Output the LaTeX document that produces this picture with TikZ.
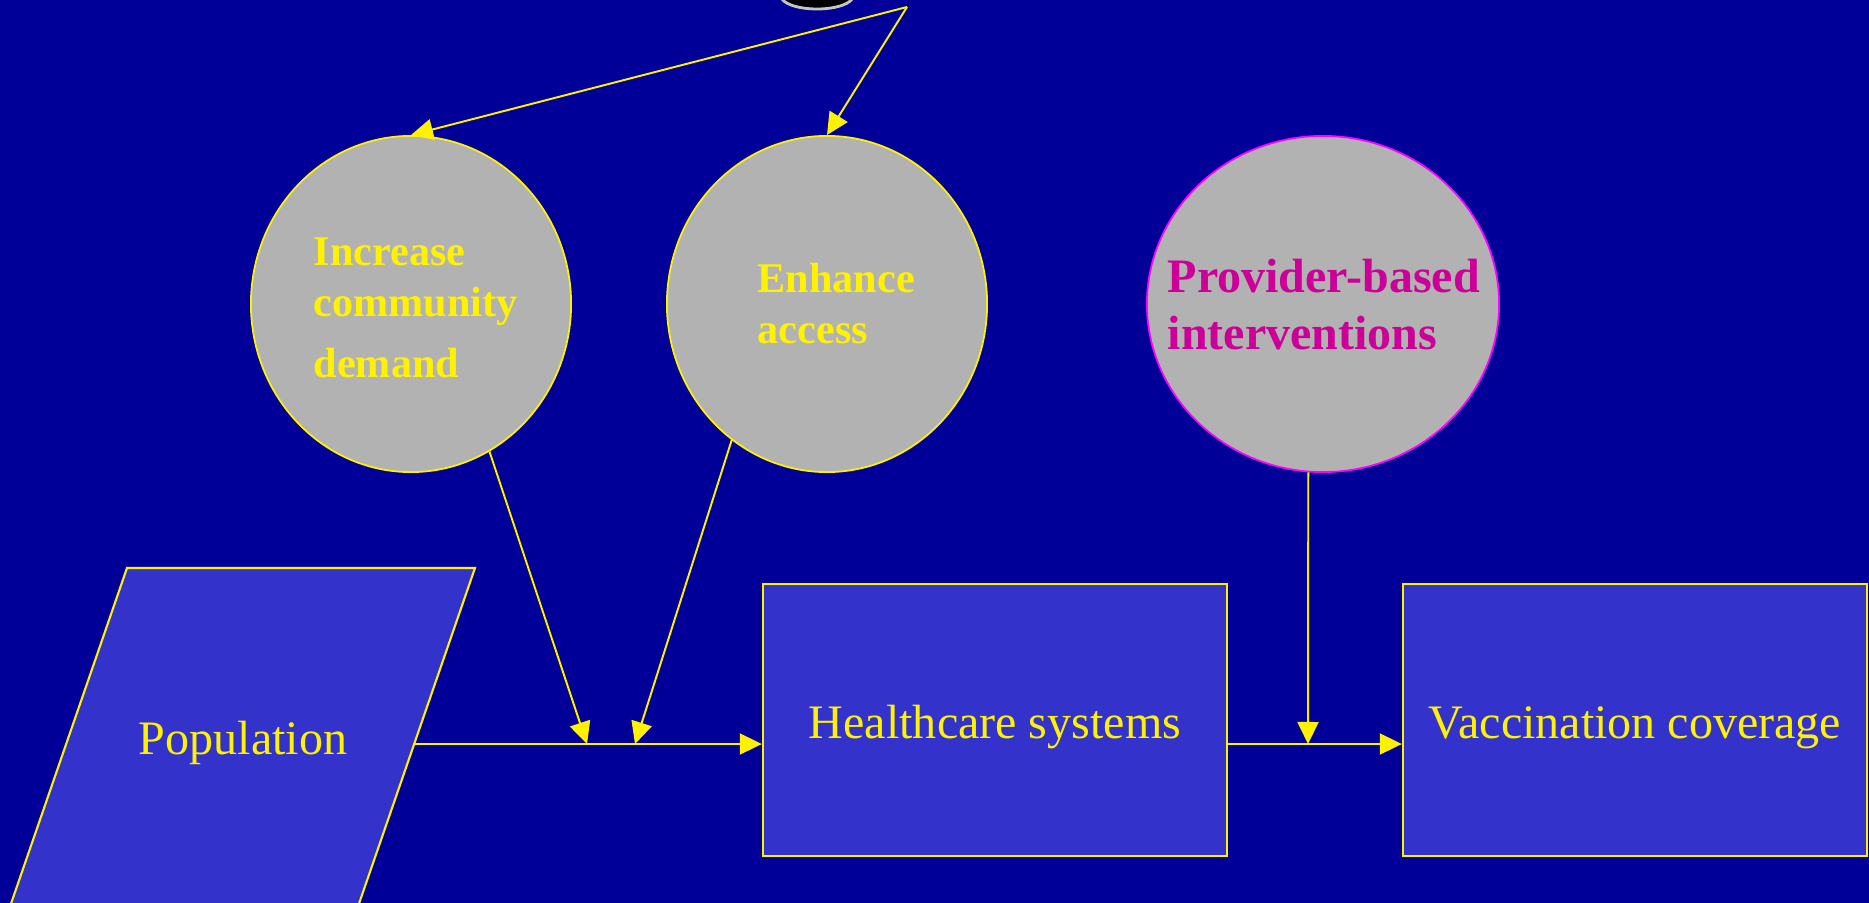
\documentclass[tikz,border=0pt]{standalone}
\usepackage{fontspec}
\setmainfont{Liberation Serif}
\usetikzlibrary{shapes.geometric,arrows.meta}
\definecolor{slidebg}{HTML}{000099}
\definecolor{boxblue}{HTML}{3333CC}
\definecolor{bubblegray}{HTML}{B2B2B2}
\definecolor{provpink}{HTML}{CC0099}
\definecolor{provrim}{HTML}{FF00FF}
\tikzset{
  bubble/.style={ellipse, draw=yellow, line width=0.5pt, fill=bubblegray, inner sep=0pt, minimum width=3.2cm, minimum height=3.36cm},
  bubbletext/.style={text=yellow, font=\bfseries\fontsize{12}{14.5}\selectfont, align=left, inner sep=0pt, anchor=west},
  stage/.style={rectangle, draw=yellow, line width=0.6pt, fill=boxblue, text=yellow, font=\fontsize{13.66}{16}\selectfont, inner sep=0pt, minimum width=4.64cm, minimum height=2.72cm, text height=0.5cm, text depth=0.14cm},
  flow/.style={yellow, line width=0.55pt, -{Triangle[length=0.22cm,width=0.21cm]}}
}

\begin{document}
\begin{tikzpicture}[x=0.01cm, y=-0.01cm]
        \useasboundingbox (0,0) rectangle (1869,903);
        \fill[slidebg] (0,0) rectangle (1869,903);
        \clip (0,0) rectangle (1869,903);
        % disc at the top edge
        \node[ellipse, fill=black, draw=gray!45, line width=0.8pt, inner sep=0pt, minimum width=0.72cm, minimum height=0.26cm] (disc) at (817,-4) {};
        % interventions
        \node[bubble] (demand) at (411,304) {};
        \node[bubble] (access) at (827,304) {};
        \node[bubble, draw=provrim, minimum width=3.52cm] (provider) at (1323,304) {};
        \node[bubbletext] (demandtxt) at (313,308) {Increase\\community\\[2.9pt]demand};
        \node[bubbletext] (accesstxt) at (757,304) {Enhance\\access};
        \node[bubbletext, text=provpink, font=\bfseries\fontsize{13.66}{16.2}\selectfont] (providertxt) at (1167,305) {Provider-based\\interventions};
        % population, cut by the lower edge
        \filldraw[fill=boxblue, draw=yellow, line width=0.6pt] (127,568) -- (475,568) -- (343,950) -- (-5,950) -- cycle;
        \node[text=yellow, font=\fontsize{13.66}{16}\selectfont, inner sep=0pt] (pop) at (243,743) {Population};
        % stages
        \node[stage] (health) at (995,720) {Healthcare systems};
        \node[stage] (cover) at (1635,720) {Vaccination coverage};
        % connectors
        \coordinate (src) at (907,7);
        \coordinate (popout) at (414,744);
        \coordinate (hitA) at (587,744);
        \coordinate (hitB) at (635,744);
        \coordinate (hitC) at (1308,744);
        \draw[flow] (src) -- (demand.north);
        \draw[flow] (src) -- (access.north);
        \draw[flow] (popout) -- (health.west |- popout);
        \draw[flow] (demand.298) -- (hitA);
        \draw[flow] (access.235) -- (hitB);
        \draw[flow] (provider.265) -- (hitC);
        \draw[flow] (health.east |- popout) -- (cover.west |- popout);
\end{tikzpicture}
\end{document}
